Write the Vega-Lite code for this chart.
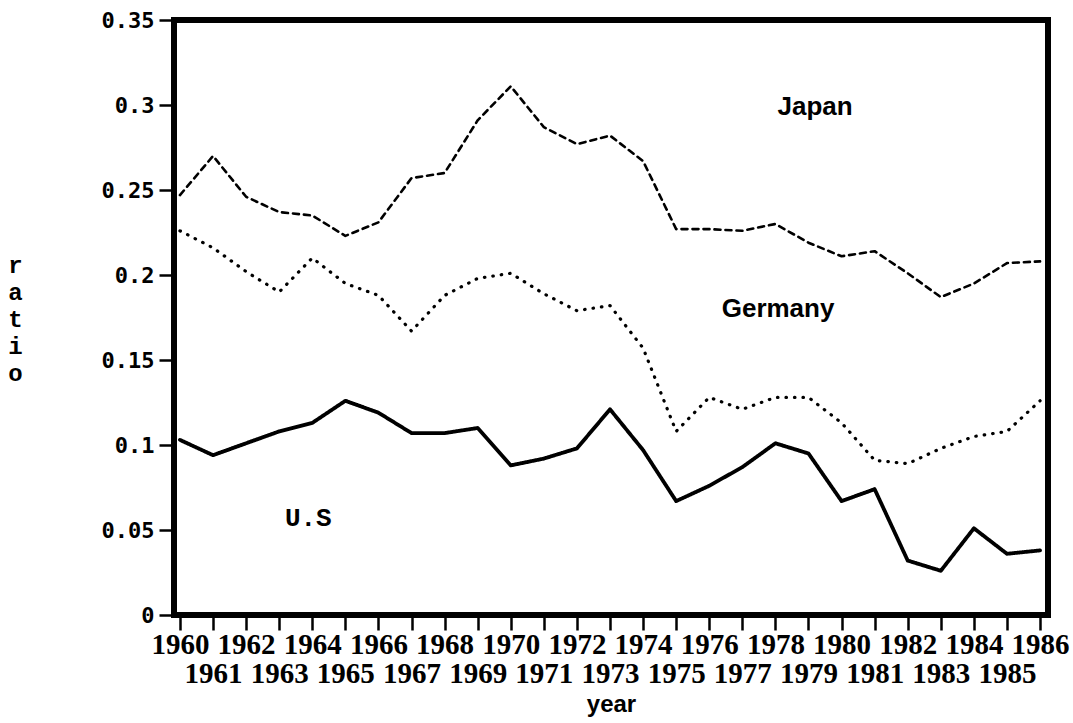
{
  "$schema": "https://vega.github.io/schema/vega-lite/v6.json",
  "autosize": {"type": "none"},
  "padding": {"left": 174, "top": 20, "right": 25, "bottom": 108},
  "width": 874,
  "height": 595,
  "background": "white",
  "config": {
    "view": {"stroke": "black", "strokeWidth": 6},
    "axis": {"grid": false, "domain": false, "tickColor": "black", "tickWidth": 2.5, "tickSize": 15, "labelColor": "black", "titleColor": "black"}
  },
  "resolve": {"axis": {"x": "independent"}},
  "datasets": {
    "series": [
      {"year": 1960, "country": "Japan", "ratio": 0.247},
      {"year": 1961, "country": "Japan", "ratio": 0.270},
      {"year": 1962, "country": "Japan", "ratio": 0.246},
      {"year": 1963, "country": "Japan", "ratio": 0.237},
      {"year": 1964, "country": "Japan", "ratio": 0.235},
      {"year": 1965, "country": "Japan", "ratio": 0.223},
      {"year": 1966, "country": "Japan", "ratio": 0.231},
      {"year": 1967, "country": "Japan", "ratio": 0.257},
      {"year": 1968, "country": "Japan", "ratio": 0.260},
      {"year": 1969, "country": "Japan", "ratio": 0.291},
      {"year": 1970, "country": "Japan", "ratio": 0.311},
      {"year": 1971, "country": "Japan", "ratio": 0.287},
      {"year": 1972, "country": "Japan", "ratio": 0.277},
      {"year": 1973, "country": "Japan", "ratio": 0.282},
      {"year": 1974, "country": "Japan", "ratio": 0.267},
      {"year": 1975, "country": "Japan", "ratio": 0.227},
      {"year": 1976, "country": "Japan", "ratio": 0.227},
      {"year": 1977, "country": "Japan", "ratio": 0.226},
      {"year": 1978, "country": "Japan", "ratio": 0.230},
      {"year": 1979, "country": "Japan", "ratio": 0.219},
      {"year": 1980, "country": "Japan", "ratio": 0.211},
      {"year": 1981, "country": "Japan", "ratio": 0.214},
      {"year": 1982, "country": "Japan", "ratio": 0.201},
      {"year": 1983, "country": "Japan", "ratio": 0.187},
      {"year": 1984, "country": "Japan", "ratio": 0.195},
      {"year": 1985, "country": "Japan", "ratio": 0.207},
      {"year": 1986, "country": "Japan", "ratio": 0.208},
      {"year": 1960, "country": "Germany", "ratio": 0.226},
      {"year": 1961, "country": "Germany", "ratio": 0.216},
      {"year": 1962, "country": "Germany", "ratio": 0.202},
      {"year": 1963, "country": "Germany", "ratio": 0.190},
      {"year": 1964, "country": "Germany", "ratio": 0.210},
      {"year": 1965, "country": "Germany", "ratio": 0.195},
      {"year": 1966, "country": "Germany", "ratio": 0.188},
      {"year": 1967, "country": "Germany", "ratio": 0.167},
      {"year": 1968, "country": "Germany", "ratio": 0.188},
      {"year": 1969, "country": "Germany", "ratio": 0.198},
      {"year": 1970, "country": "Germany", "ratio": 0.201},
      {"year": 1971, "country": "Germany", "ratio": 0.189},
      {"year": 1972, "country": "Germany", "ratio": 0.179},
      {"year": 1973, "country": "Germany", "ratio": 0.182},
      {"year": 1974, "country": "Germany", "ratio": 0.157},
      {"year": 1975, "country": "Germany", "ratio": 0.108},
      {"year": 1976, "country": "Germany", "ratio": 0.128},
      {"year": 1977, "country": "Germany", "ratio": 0.121},
      {"year": 1978, "country": "Germany", "ratio": 0.128},
      {"year": 1979, "country": "Germany", "ratio": 0.128},
      {"year": 1980, "country": "Germany", "ratio": 0.113},
      {"year": 1981, "country": "Germany", "ratio": 0.091},
      {"year": 1982, "country": "Germany", "ratio": 0.089},
      {"year": 1983, "country": "Germany", "ratio": 0.098},
      {"year": 1984, "country": "Germany", "ratio": 0.105},
      {"year": 1985, "country": "Germany", "ratio": 0.108},
      {"year": 1986, "country": "Germany", "ratio": 0.126},
      {"year": 1960, "country": "U.S", "ratio": 0.103},
      {"year": 1961, "country": "U.S", "ratio": 0.094},
      {"year": 1962, "country": "U.S", "ratio": 0.101},
      {"year": 1963, "country": "U.S", "ratio": 0.108},
      {"year": 1964, "country": "U.S", "ratio": 0.113},
      {"year": 1965, "country": "U.S", "ratio": 0.126},
      {"year": 1966, "country": "U.S", "ratio": 0.119},
      {"year": 1967, "country": "U.S", "ratio": 0.107},
      {"year": 1968, "country": "U.S", "ratio": 0.107},
      {"year": 1969, "country": "U.S", "ratio": 0.110},
      {"year": 1970, "country": "U.S", "ratio": 0.088},
      {"year": 1971, "country": "U.S", "ratio": 0.092},
      {"year": 1972, "country": "U.S", "ratio": 0.098},
      {"year": 1973, "country": "U.S", "ratio": 0.121},
      {"year": 1974, "country": "U.S", "ratio": 0.097},
      {"year": 1975, "country": "U.S", "ratio": 0.067},
      {"year": 1976, "country": "U.S", "ratio": 0.076},
      {"year": 1977, "country": "U.S", "ratio": 0.087},
      {"year": 1978, "country": "U.S", "ratio": 0.101},
      {"year": 1979, "country": "U.S", "ratio": 0.095},
      {"year": 1980, "country": "U.S", "ratio": 0.067},
      {"year": 1981, "country": "U.S", "ratio": 0.074},
      {"year": 1982, "country": "U.S", "ratio": 0.032},
      {"year": 1983, "country": "U.S", "ratio": 0.026},
      {"year": 1984, "country": "U.S", "ratio": 0.051},
      {"year": 1985, "country": "U.S", "ratio": 0.036},
      {"year": 1986, "country": "U.S", "ratio": 0.038}
    ],
    "labels": [
      {"year": 1979.2, "ratio": 0.299, "label": "Japan"},
      {"year": 1978.08, "ratio": 0.180, "label": "Germany"},
      {"year": 1963.88, "ratio": 0.0568, "label": "U.S"}
    ]
  },
  "layer": [
    {
      "data": {"name": "series"},
      "mark": {"type": "line", "color": "black", "strokeCap": "round", "strokeJoin": "round"},
      "encoding": {
        "x": {
          "field": "year", "type": "quantitative",
          "scale": {"domain": [1959.82, 1986.24], "nice": false, "zero": false},
          "axis": {
            "orient": "bottom", "offset": 0,
            "values": [1960,1962,1964,1966,1968,1970,1972,1974,1976,1978,1980,1982,1984,1986],
            "format": "d",
            "labelFont": "Liberation Serif", "labelFontWeight": "bold", "labelFontSize": 29,
            "labelPadding": 0,
            "labelOverlap": false, "labelBound": false, "labelFlush": false,
            "title": null
          }
        },
        "y": {
          "field": "ratio", "type": "quantitative",
          "scale": {"domain": [0, 0.35], "nice": false},
          "axis": {
            "values": [0, 0.05, 0.1, 0.15, 0.2, 0.25, 0.3, 0.35],
            "labelExpr": "format(datum.value, '.2~f')",
            "labelFont": "DejaVu Sans Mono", "labelFontWeight": "bold", "labelFontSize": 22,
            "labelPadding": 5, "labelOverlap": false, "labelBound": false, "labelFlush": false,
            "title": ["r", "a", "t", "i", "o"], "titleAngle": 0, "titleFont": "Liberation Mono", "titleFontWeight": "bold", "titleFontSize": 24,
            "titleLineHeight": 27, "titleX": -159, "titleY": 245, "titleAlign": "center", "titleBaseline": "middle"
          }
        },
        "detail": {"field": "country"},
        "strokeDash": {"field": "country", "type": "nominal", "scale": {"domain": ["Japan", "Germany", "U.S"], "range": [[6, 5], [0.5, 8], [1, 0]]}, "legend": null},
        "strokeWidth": {"field": "country", "type": "nominal", "scale": {"domain": ["Japan", "Germany", "U.S"], "range": [2.6, 3.8, 3]}, "legend": null}
      }
    },
    {
      "data": {"name": "labels"},
      "transform": [{"filter": "datum.label != 'U.S'"}],
      "mark": {"type": "text", "font": "Liberation Sans", "fontWeight": "bold", "fontSize": 26, "color": "black", "align": "center", "baseline": "middle"},
      "encoding": {
        "x": {
          "field": "year", "type": "quantitative",
          "axis": {
            "orient": "bottom", "offset": 0,
            "values": [1961,1963,1965,1967,1969,1971,1973,1975,1977,1979,1981,1983,1985],
            "format": "d",
            "labelFont": "Liberation Serif", "labelFontWeight": "bold", "labelFontSize": 29,
            "labelPadding": 29,
            "labelOverlap": false, "labelBound": false, "labelFlush": false,
            "title": "year", "titleFont": "Liberation Sans", "titleFontWeight": "bold", "titleFontSize": 24,
            "titleBaseline": "alphabetic", "titleY": 96, "titleX": 437, "titleAnchor": "middle", "titleAlign": "center"
          }
        },
        "y": {"field": "ratio", "type": "quantitative"},
        "text": {"field": "label"}
      }
    },
    {
      "data": {"name": "labels"},
      "transform": [{"filter": "datum.label == 'U.S'"}],
      "mark": {"type": "text", "font": "Liberation Mono", "fontWeight": "bold", "fontSize": 26, "color": "black", "align": "center", "baseline": "middle"},
      "encoding": {
        "x": {"field": "year", "type": "quantitative", "axis": null},
        "y": {"field": "ratio", "type": "quantitative"},
        "text": {"field": "label"}
      }
    }
  ]
}
